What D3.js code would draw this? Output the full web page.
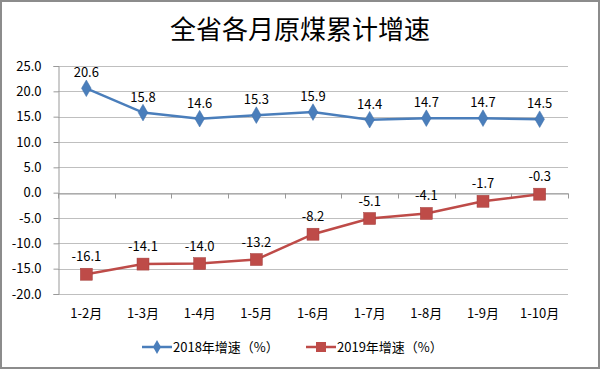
<!DOCTYPE html>
<html><head><meta charset="utf-8">
<script src="https://cdn.jsdelivr.net/npm/d3@7"></script>
<style>body{margin:0;background:#fff}svg{display:block}text{font-family:"Noto Sans CJK SC","Liberation Sans",sans-serif}</style>
</head><body><svg id="c" width="600" height="369"></svg>
<script>
const categories = ["1-2月","1-3月","1-4月","1-5月","1-6月","1-7月","1-8月","1-9月","1-10月"];
const series2018 = [20.6,15.8,14.6,15.3,15.9,14.4,14.7,14.7,14.5];
const series2019 = [-16.1,-14.1,-14.0,-13.2,-8.2,-5.1,-4.1,-1.7,-0.3];
const yTicks = [25,20,15,10,5,0,-5,-10,-15,-20];
const seriesNames = ["2018年增速（%）","2019年增速（%）"];
const title = "全省各月原煤累计增速";

const fmt = v => v.toFixed(1);
const svg = d3.select("#c");
svg.append("rect").attr("x",1).attr("y",1).attr("width",598).attr("height",367).attr("fill","#fff").attr("stroke","#8c8c8c").attr("stroke-width",2);
svg.append("text").attr("x",300).attr("y",39).attr("text-anchor","middle").attr("font-size",26).attr("fill","#000").text(title);

const L=58,R=568,T=66,B=294;
const x = d3.scaleBand().domain(categories).range([L,R]);
const y = d3.scaleLinear().domain([-20,25]).range([B,T]);

// gridlines
svg.append("g").selectAll("line").data(yTicks).join("line")
 .attr("x1",L).attr("x2",R).attr("y1",d=>Math.round(y(d))+0.5).attr("y2",d=>Math.round(y(d))+0.5)
 .attr("stroke","#bfbfbf").attr("stroke-width",1);
// y axis
const ya = svg.append("g").attr("transform",`translate(${L+0.5},0)`).call(d3.axisLeft(y).tickValues(yTicks).tickFormat(fmt).tickSize(5).tickPadding(12));
ya.select(".domain").attr("stroke","#999");
ya.selectAll(".tick line").attr("stroke","#999");
ya.selectAll("text").attr("font-size",13).attr("fill","#000").attr("font-family","Liberation Sans, sans-serif");
// x axis at 0 with ticks
const xa = svg.append("g").attr("transform",`translate(0,${Math.round(y(0))+0.5})`)
 .call(d3.axisBottom(x).tickSize(0).tickFormat(""));
xa.select(".domain").attr("stroke","#999");
xa.append("g").selectAll("line").data(d3.range(categories.length+1)).join("line")
 .attr("x1",i=>Math.round(L+i*x.step())+0.5).attr("x2",i=>Math.round(L+i*x.step())+0.5)
 .attr("y1",0).attr("y2",5).attr("stroke","#999");
// x labels at bottom
svg.append("g").selectAll("text").data(categories).join("text")
 .attr("x",d=>x(d)+x.bandwidth()/2).attr("y",318).attr("text-anchor","middle")
 .attr("font-size",13).attr("fill","#000").text(d=>d);

const colors=["#4a7ebb","#be4b48"];
const line = d3.line().x((d,i)=>x(categories[i])+x.bandwidth()/2).y(d=>y(d));
[series2018,series2019].forEach((s,k)=>{
  svg.append("path").datum(s).attr("d",line).attr("fill","none").attr("stroke",colors[k]).attr("stroke-width",2.5);
  const g=svg.append("g");
  s.forEach((v,i)=>{
    const cx=x(categories[i])+x.bandwidth()/2, cy=y(v);
    if(k===0){
      g.append("path").attr("d",d3.symbol(d3.symbolDiamond,80)()).attr("transform",`translate(${cx},${cy})`).attr("fill",colors[0]).attr("stroke","#3e6ea8").attr("stroke-width",0.5);
    } else {
      g.append("rect").attr("x",cx-6).attr("y",cy-6).attr("width",12).attr("height",12).attr("fill",colors[1]).attr("stroke","#a33f3c").attr("stroke-width",0.5);
    }
    g.append("text").attr("x",cx).attr("y",cy-(k===0?11:13)).attr("text-anchor","middle").attr("font-size",13).attr("fill","#000").attr("font-family","Liberation Sans, sans-serif").text(fmt(v));
  });
});

// legend
const lg=svg.append("g");
[[142,seriesNames[0]],[306,seriesNames[1]]].forEach(([lx,name],k)=>{
  lg.append("line").attr("x1",lx).attr("x2",lx+30).attr("y1",347).attr("y2",347).attr("stroke",colors[k]).attr("stroke-width",2.5);
  if(k===0) lg.append("path").attr("d",d3.symbol(d3.symbolDiamond,55)()).attr("transform",`translate(${lx+15},347)`).attr("fill",colors[0]);
  else lg.append("rect").attr("x",lx+10).attr("y",342).attr("width",10).attr("height",10).attr("fill",colors[1]);
  lg.append("text").attr("x",lx+31).attr("y",352).attr("font-size",13).attr("fill","#000").text(name);
});
</script></body></html>
